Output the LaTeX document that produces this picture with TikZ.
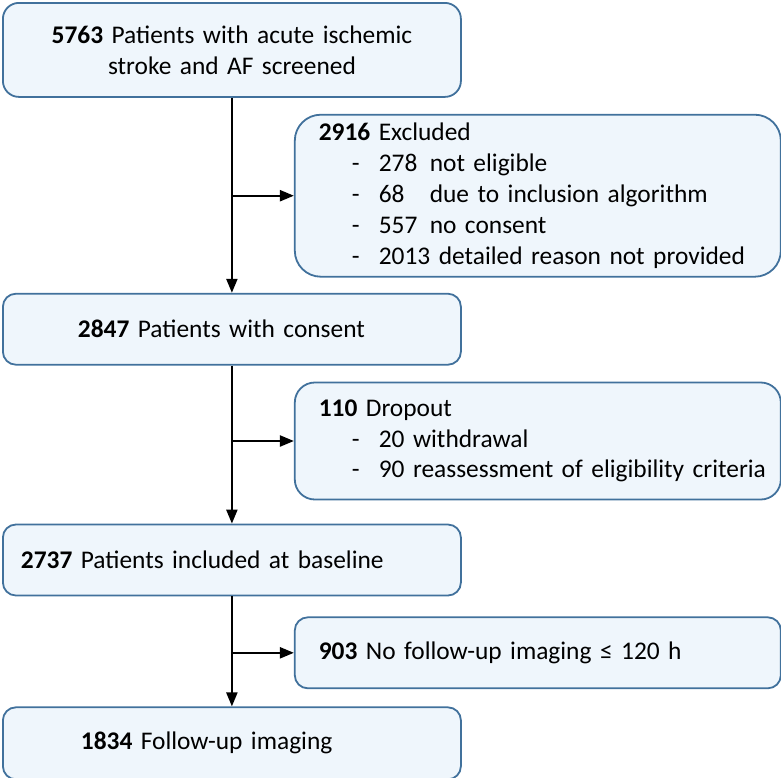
\documentclass[tikz,border=0pt]{standalone}
\usepackage{fontspec}
\setmainfont{Carlito}
\usetikzlibrary{arrows.meta, positioning}
\definecolor{boxline}{RGB}{65,113,156}
\definecolor{boxfill}{RGB}{239,246,252}
\newcommand{\exdash}{\makebox[60pt][l]{\hspace{33pt}-}}

\begin{document}
\begin{tikzpicture}[
    x=1pt, y=1pt,
    font=\fontsize{25.4}{30.8}\selectfont,
    mainbox/.style={draw=boxline, line width=1.8pt, fill=boxfill, rounded corners=13pt, minimum width=458pt, minimum height=71pt, inner xsep=18pt, inner ysep=0pt, text width=422pt, align=left},
    sidebox/.style={draw=boxline, line width=1.8pt, fill=boxfill, minimum width=486pt, inner xsep=24pt, inner ysep=0pt, text width=438pt, align=left},
    arrow/.style={-{Triangle[length=14pt, width=11pt]}, line width=2.2pt, black}
]
\useasboundingbox (0,0) rectangle (781,-777);

% Main column
\node[mainbox, anchor=north west, minimum height=94pt, rounded corners=16pt, align=center] (screened) at (2,-2) {\textbf{5763} Patients with acute ischemic\\stroke and AF screened};
\node[mainbox, below=195pt of screened] (consent) {\hspace*{57pt}\textbf{2847} Patients with consent};
\node[mainbox, below=158pt of consent] (baseline) {\textbf{2737} Patients included at baseline};
\node[mainbox, below=110pt of baseline, minimum height=72pt] (followup) {\hspace*{60pt}\textbf{1834} Follow-up imaging};

% Side boxes
\node[sidebox, below right=16pt and 62pt of screened.south, minimum height=162pt, rounded corners=26pt] (excluded) {\textbf{2916} Excluded\\
\exdash\makebox[51pt][l]{278}not eligible\\
\exdash\makebox[51pt][l]{68}due to inclusion algorithm\\
\exdash\makebox[51pt][l]{557}no consent\\
\mbox{\exdash 2013 detailed reason not provided}};
\node[sidebox, below right=16pt and 62pt of consent.south, minimum height=117pt, rounded corners=20pt] (dropout) {\textbf{110} Dropout\\
\exdash 20 withdrawal\\
\mbox{\exdash 90 reassessment of eligibility criteria}};
\node[sidebox, below right=20pt and 62pt of baseline.south, minimum height=71pt, rounded corners=13pt] (nofollow) {\textbf{903} No follow-up imaging ≤ 120 h};

% Arrows
\draw[arrow] (screened) -- (consent);
\draw[arrow] (consent) -- (baseline);
\draw[arrow] (baseline) -- (followup);
\draw[arrow] (screened.south |- excluded.west) -- (excluded.west);
\draw[arrow] (consent.south |- dropout.west) -- (dropout.west);
\draw[arrow] (baseline.south |- nofollow.west) -- (nofollow.west);

\end{tikzpicture}
\end{document}
